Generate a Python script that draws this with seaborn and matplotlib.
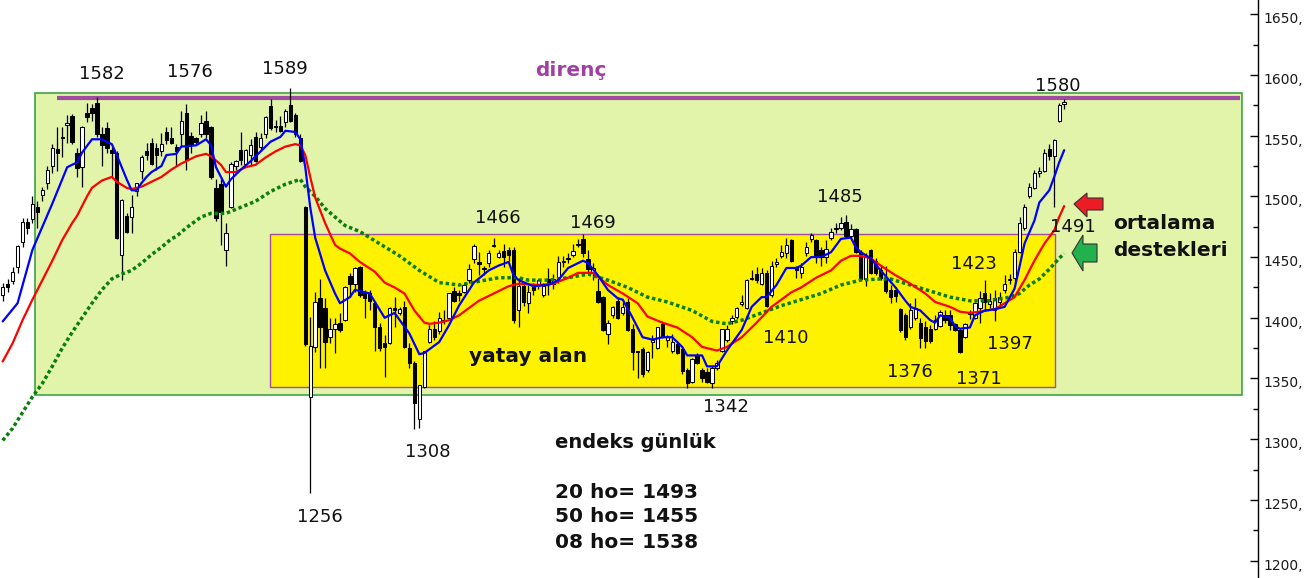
import numpy as np
import pandas as pd
import matplotlib
matplotlib.use("Agg")
import matplotlib.pyplot as plt
from matplotlib.patches import Rectangle, Polygon
from matplotlib.ticker import MultipleLocator
import matplotlib.transforms as mtransforms
import seaborn as sns

# ---------------- data ----------------
opens = [1419,1428,1430,1442,1462,1479,1481,1491,1501,1511,
         1525,1539,1549,1559,1566,1536,1524,1569,1573,1577,
         1551,1556,1538,1536,1452,1484,1483,1504,1521,1537,
         1544,1540,1537,1553,1548,1541,1551,1569,1550,1548,
         1551,1562,1557,1507,1510,1456,1491,1525,1538,1527,
         1534,1549,1541,1551,1574,1558,1558,1561,1575,1567,
         1548,1491,1335,1376,1416,1408,1384,1391,1396,1398,
         1434,1428,1442,1420,1420,1412,1392,1379,1379,1408,
         1404,1409,1375,1363,1317,1343,1380,1391,1389,1397,
         1400,1422,1420,1421,1431,1448,1446,1441,1445,1460,
         1450,1455,1456,1456,1406,1426,1412,1428,1427,1419,
         1432,1428,1433,1446,1448,1452,1460,1465,1448,1437,
         1422,1417,1387,1402,1414,1404,1413,1391,1372,1374,
         1357,1380,1375,1395,1382,1373,1378,1374,1357,1347,
         1369,1357,1355,1346,1359,1373,1382,1397,1401,1411,
         1408,1433,1436,1428,1437,1419,1444,1451,1453,1464,
         1441,1437,1453,1465,1464,1456,1450,1466,1474,1474,
         1479,1467,1473,1454,1432,1456,1447,1439,1433,1423,
         1423,1407,1402,1392,1400,1396,1392,1391,1391,1393,
         1402,1402,1395,1390,1384,1403,1400,1408,1420,1411,
         1406,1413,1423,1431,1433,1454,1474,1500,1507,1519,
         1521,1539,1533,1562,1576]
highs = [1429,1432,1442,1460,1482,1482,1500,1496,1508,1525,
         1543,1557,1557,1567,1568,1540,1558,1577,1576,1582,
         1557,1561,1541,1537,1498,1486,1501,1511,1534,1544,
         1548,1544,1552,1557,1557,1543,1570,1576,1553,1549,
         1567,1570,1558,1514,1514,1478,1528,1530,1553,1539,
         1547,1553,1552,1566,1580,1563,1566,1572,1589,1569,
         1551,1492,1401,1421,1432,1416,1400,1400,1404,1426,
         1437,1442,1443,1423,1423,1414,1396,1386,1409,1417,
         1409,1414,1379,1364,1345,1373,1394,1397,1405,1406,
         1420,1425,1423,1429,1444,1461,1454,1443,1456,1466,
         1456,1461,1458,1458,1433,1428,1427,1429,1432,1429,
         1441,1436,1451,1451,1453,1461,1465,1469,1456,1445,
         1433,1418,1398,1410,1417,1413,1416,1395,1373,1376,
         1373,1386,1392,1397,1386,1387,1381,1376,1359,1367,
         1371,1359,1359,1360,1365,1391,1394,1402,1409,1419,
         1432,1439,1442,1441,1439,1447,1449,1460,1466,1465,
         1443,1445,1462,1470,1465,1458,1464,1474,1478,1483,
         1485,1477,1474,1456,1453,1457,1449,1443,1443,1427,
         1425,1408,1404,1412,1416,1400,1397,1394,1402,1406,
         1406,1406,1396,1391,1396,1406,1413,1422,1431,1420,
         1423,1421,1435,1436,1457,1483,1494,1511,1522,1524,
         1539,1543,1547,1577,1580]
lows = [1414,1421,1428,1437,1458,1469,1478,1474,1496,1506,
        1519,1521,1532,1544,1543,1516,1508,1561,1562,1549,
        1525,1536,1516,1465,1431,1470,1470,1500,1514,1530,
        1526,1522,1533,1543,1543,1525,1541,1522,1536,1543,
        1549,1548,1514,1480,1460,1443,1490,1522,1526,1524,
        1526,1528,1537,1548,1555,1553,1553,1557,1561,1549,
        1528,1377,1256,1372,1359,1359,1379,1371,1388,1397,
        1417,1421,1417,1400,1406,1373,1373,1351,1378,1392,
        1402,1375,1359,1308,1309,1342,1379,1382,1387,1395,
        1398,1413,1414,1420,1429,1445,1435,1435,1442,1458,
        1449,1442,1447,1396,1392,1410,1404,1419,1424,1417,
        1419,1424,1429,1442,1445,1450,1458,1450,1437,1431,
        1412,1389,1378,1400,1399,1402,1389,1357,1350,1351,
        1355,1367,1374,1383,1376,1371,1370,1354,1342,1346,
        1362,1347,1346,1342,1357,1372,1380,1395,1399,1410,
        1407,1431,1429,1427,1409,1417,1442,1449,1449,1446,
        1433,1433,1451,1462,1445,1443,1445,1464,1470,1472,
        1466,1466,1453,1431,1426,1436,1435,1431,1420,1412,
        1413,1388,1382,1391,1398,1375,1375,1379,1390,1392,
        1396,1390,1389,1371,1383,1399,1399,1396,1406,1408,
        1397,1410,1420,1428,1429,1453,1472,1499,1506,1516,
        1520,1530,1491,1561,1572]
closes = [1425,1425,1438,1459,1479,1474,1494,1487,1505,1522,
          1540,1536,1548,1560,1545,1523,1557,1565,1569,1551,
          1542,1540,1536,1466,1497,1471,1491,1511,1532,1534,
          1527,1534,1543,1546,1544,1537,1562,1530,1543,1545,
          1560,1551,1516,1482,1487,1470,1527,1529,1530,1538,
          1542,1529,1548,1565,1556,1557,1554,1570,1562,1551,
          1529,1378,1377,1413,1392,1380,1391,1395,1390,1425,
          1428,1441,1419,1416,1414,1392,1375,1376,1408,1406,
          1407,1376,1363,1330,1345,1373,1391,1384,1400,1398,
          1420,1414,1419,1427,1440,1459,1444,1440,1453,1459,
          1453,1450,1452,1398,1426,1413,1421,1423,1431,1426,
          1428,1432,1446,1447,1449,1455,1461,1453,1440,1441,
          1413,1390,1396,1409,1400,1409,1390,1372,1373,1354,
          1372,1382,1392,1384,1384,1380,1371,1356,1346,1366,
          1363,1350,1347,1359,1363,1391,1391,1400,1408,1413,
          1431,1432,1431,1437,1410,1443,1446,1454,1460,1447,
          1439,1442,1458,1468,1451,1450,1457,1471,1473,1478,
          1467,1473,1454,1432,1451,1437,1437,1433,1422,1417,
          1418,1390,1384,1406,1408,1383,1381,1381,1398,1405,
          1398,1394,1390,1372,1395,1405,1412,1416,1413,1414,
          1416,1417,1428,1432,1454,1478,1491,1508,1519,1521,
          1536,1533,1546,1575,1578]

# moving averages (day index, value)
ma8_days = [0,3,6,10,13,15,16,18,20,22,23,24,25,26,27,28,29,30,32,33,35,36,39,41,42,43,
            45,46,48,50,52,54,56,57,59,60,61,62,63,65,67,68,70,71,74,77,79,82,84,85,88,90,
            92,95,98,100,102,103,104,107,110,112,114,117,118,120,122,124,125,127,129,131,
            133,135,137,138,141,142,144,146,149,151,153,154,156,158,160,161,163,165,167,169,
            171,172,173,175,177,180,182,183,185,187,188,189,191,192,193,195,196,198,200,202,
            204,205,206,208,209,211,212,213,214]
ma8_vals = [1397,1412,1456,1494,1524,1528,1536,1547,1547,1543,1534,1524,1514,1505,1505,1511,
            1516,1520,1525,1534,1535,1541,1542,1547,1542,1524,1508,1514,1522,1529,1537,1545,
            1549,1554,1553,1547,1524,1491,1466,1439,1420,1412,1417,1423,1420,1400,1404,1387,
            1370,1371,1380,1394,1410,1429,1439,1443,1446,1435,1431,1426,1427,1431,1441,1447,
            1445,1435,1423,1416,1415,1400,1384,1382,1384,1384,1376,1369,1369,1360,1360,1373,
            1390,1409,1417,1417,1427,1441,1441,1443,1450,1450,1454,1465,1466,1458,1454,1449,
            1439,1425,1414,1409,1406,1398,1396,1402,1400,1393,1391,1392,1402,1406,1407,1409,
            1424,1442,1461,1480,1495,1505,1516,1528,1538]

ma20_days = [0,2,4,6,8,10,12,14,15,17,18,20,22,23,25,26,28,30,32,34,36,39,41,42,44,45,47,
             49,51,53,55,57,59,60,61,62,63,65,67,68,70,72,75,77,79,81,83,85,86,88,90,92,94,
             96,99,102,104,108,111,114,116,119,120,122,125,128,130,133,136,139,141,144,146,
             149,152,155,159,161,164,167,169,171,173,175,177,180,183,186,188,191,193,195,197,
             200,202,204,206,208,210,212,213,214]
ma20_vals = [1364,1379,1398,1415,1431,1447,1464,1478,1484,1500,1507,1513,1516,1512,1507,1506,
             1508,1512,1516,1522,1527,1533,1535,1533,1526,1520,1520,1524,1526,1532,1537,1541,
             1543,1542,1534,1516,1499,1478,1460,1457,1453,1446,1438,1429,1425,1420,1406,1396,
             1395,1396,1398,1402,1408,1414,1420,1426,1428,1427,1428,1433,1437,1437,1434,1427,
             1420,1412,1401,1396,1392,1384,1376,1373,1376,1384,1396,1409,1421,1425,1433,1439,
             1447,1451,1451,1449,1443,1435,1428,1420,1413,1409,1405,1404,1405,1407,1412,1417,
             1431,1447,1461,1472,1483,1492]

ma50_days = [0,2,4,6,8,10,12,14,16,18,20,22,24,26,28,30,32,34,35,37,40,42,45,48,51,54,57,
             60,61,63,65,67,69,72,76,80,84,88,92,96,100,104,106,110,114,118,122,126,130,134,
             139,143,146,149,153,157,161,165,169,173,177,179,183,187,191,195,199,203,205,207,
             209,211,213,214]
ma50_vals = [1299,1309,1322,1335,1346,1360,1375,1388,1400,1412,1423,1432,1436,1439,1445,1452,
             1458,1465,1467,1474,1483,1486,1486,1491,1496,1504,1510,1514,1508,1500,1490,1483,
             1476,1471,1461,1451,1439,1429,1427,1430,1433,1433,1431,1431,1433,1436,1431,1425,
             1417,1413,1406,1397,1395,1398,1404,1410,1415,1420,1427,1431,1432,1432,1427,1422,
             1417,1414,1414,1417,1420,1427,1432,1440,1449,1453]

y_ticks = [1200, 1250, 1300, 1350, 1400, 1450, 1500, 1550, 1600, 1650]
tick_labels = [f"{v}," for v in y_ticks]

resistance = 1580.7
wide_box = (6.5, 249.9, 1336.5, 1585.1)      # day from, day to, low, high
range_box = (53.9, 212.2, 1343, 1469)

# ---------------- figure ----------------
sns.set_theme(style="white")
plt.rcParams['font.family'] = ['DejaVu Sans']

W, H = 1304, 578
fig = plt.figure(figsize=(W / 100, H / 100), dpi=100)
fig.patch.set_facecolor('white')
ax = fig.add_axes([0, 0, 1258 / W, 1])
ax.set_facecolor('white')
ax.set_xlim(-0.544, 253.08)
ax.set_ylim(1185.7, 1661.7)

# boxes
ax.add_patch(Rectangle((wide_box[0], wide_box[2]), wide_box[1] - wide_box[0],
                       wide_box[3] - wide_box[2], facecolor='#e2f3aa',
                       edgecolor='#3ea346', lw=1.2, zorder=0.5))
ax.add_patch(Rectangle((range_box[0], range_box[2]), range_box[1] - range_box[0],
                       range_box[3] - range_box[2], facecolor='#fff200',
                       edgecolor='#a04ca0', lw=1.0, zorder=0.6))
ax.hlines(resistance, 10.9, 249.5, color='#a04ca0', lw=3, zorder=1)

# candles
o = np.array(opens, float); h = np.array(highs, float)
l = np.array(lows, float); c = np.array(closes, float)
days = np.arange(len(o))
ax.vlines(days, l, h, color='black', lw=0.9, zorder=3)
bottom = np.minimum(o, c)
height = np.maximum(np.abs(c - o), 0.4)
cols = np.where(c >= o, 'white', 'black')
ax.bar(days, height, bottom=bottom, width=0.68, color=cols, edgecolor='black',
       linewidth=0.75, zorder=4)

# moving averages
df50 = pd.DataFrame({'day': ma50_days, 'val': ma50_vals})
df20 = pd.DataFrame({'day': ma20_days, 'val': ma20_vals})
df8 = pd.DataFrame({'day': ma8_days, 'val': ma8_vals})
sns.lineplot(data=df50, x='day', y='val', ax=ax, color='#0b7d0b', lw=2.5,
             estimator=None, legend=False, zorder=5)
gl = ax.lines[-1]
gl.set_linestyle((0, (1, 0.8)))
gl.set_dash_capstyle('butt')
sns.lineplot(data=df20, x='day', y='val', ax=ax, color='#ff0000', lw=1.6,
             estimator=None, legend=False, zorder=6)
sns.lineplot(data=df8, x='day', y='val', ax=ax, color='#0000ff', lw=1.6,
             estimator=None, legend=False, zorder=7)

# axes styling
ax.set_xlabel(''); ax.set_ylabel('')
ax.set_xticks([])
for s in ['top', 'left', 'bottom']:
    ax.spines[s].set_visible(False)
ax.spines['right'].set_visible(True)
ax.spines['right'].set_color('black')
ax.spines['right'].set_linewidth(1.0)
ax.yaxis.tick_right()
ax.set_yticks(y_ticks)
ax.set_yticklabels(tick_labels)
ax.yaxis.set_minor_locator(MultipleLocator(25))
ax.tick_params(axis='y', which='major', direction='in', length=6, width=1,
               color='black', labelsize=10, pad=4, labelcolor='#1a1a1a',
               right=True, left=False)
ax.tick_params(axis='y', which='minor', direction='in', length=3.5, width=1,
               color='black', right=True, left=False)
ax.grid(False)
offset = mtransforms.ScaledTranslation(0, -3.5 / 100, fig.dpi_scale_trans)
for t in ax.yaxis.get_major_ticks(len(y_ticks)):
    t.label2.set_transform(t.label2.get_transform() + offset)


def ptxt(x, y, s, **kw):
    fig.text(x / W, 1 - y / H, s, ha=kw.pop('ha', 'center'), va='center', **kw)


num_style = dict(fontsize=13, color='#111111')
for x, y, s in [(102, 74, '1582'), (190, 72, '1576'), (285, 69, '1589'),
                (1058, 86, '1580'), (498, 218, '1466'), (593, 223, '1469'),
                (840, 197, '1485'), (1073, 227, '1491'), (974, 264, '1423'),
                (786, 338, '1410'), (1010, 344, '1397'), (910, 372, '1376'),
                (979, 379, '1371'), (726, 407, '1342'), (428, 452, '1308'),
                (320, 517, '1256')]:
    ptxt(x, y, s, **num_style)

ptxt(571, 71, 'direnç', fontsize=14.5, fontweight='bold', color='#a040a0')
ptxt(528, 357, 'yatay alan', fontsize=14.5, fontweight='bold', color='#111111')
ptxt(1113, 224, 'ortalama', fontsize=14.5, fontweight='bold', color='#111111', ha='left')
ptxt(1113, 250, 'destekleri', fontsize=14.5, fontweight='bold', color='#111111', ha='left')
ptxt(555, 442, 'endeks günlük', fontsize=14, fontweight='bold', color='#111111', ha='left')
ptxt(555, 492, '20 ho= 1493', fontsize=14.5, fontweight='bold', color='#111111', ha='left')
ptxt(555, 517, '50 ho= 1455', fontsize=14.5, fontweight='bold', color='#111111', ha='left')
ptxt(555, 542, '08 ho= 1538', fontsize=14.5, fontweight='bold', color='#111111', ha='left')


def arrow(pts, fc):
    p = [(x / W, 1 - y / H) for x, y in pts]
    fig.patches.append(Polygon(p, closed=True, facecolor=fc, edgecolor='#333333',
                               lw=0.8, transform=fig.transFigure, figure=fig))


arrow([(1074, 204), (1087, 193), (1087, 198), (1103, 198), (1103, 210),
       (1087, 210), (1087, 217)], '#ec1c24')
arrow([(1072, 253), (1083, 235), (1083, 244), (1097, 244), (1097, 262),
       (1083, 262), (1083, 271)], '#22b14c')

fig.savefig('out.png', dpi=100, facecolor='white')
